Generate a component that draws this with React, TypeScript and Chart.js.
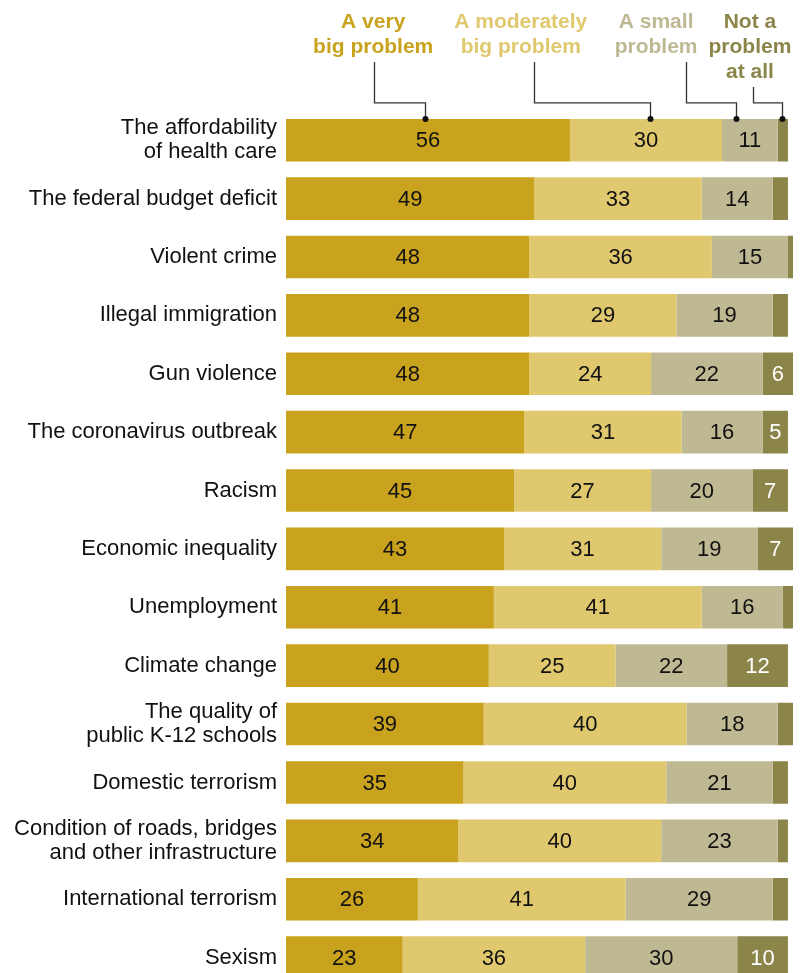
import React, { useEffect, useRef } from "react";
import { Chart, registerables } from "chart.js";

Chart.register(...registerables);

const categories: (string | string[])[] = [
  ["The affordability", "of health care"],
  "The federal budget deficit",
  "Violent crime",
  "Illegal immigration",
  "Gun violence",
  "The coronavirus outbreak",
  "Racism",
  "Economic inequality",
  "Unemployment",
  "Climate change",
  ["The quality of", "public K-12 schools"],
  "Domestic terrorism",
  ["Condition of roads, bridges", "and other infrastructure"],
  "International terrorism",
  "Sexism",
];

const veryBig = [56, 49, 48, 48, 48, 47, 45, 43, 41, 40, 39, 35, 34, 26, 23];
const moderatelyBig = [30, 33, 36, 29, 24, 31, 27, 31, 41, 25, 40, 40, 40, 41, 36];
const smallProblem = [11, 14, 15, 19, 22, 16, 20, 19, 16, 22, 18, 21, 23, 29, 30];
const notAtAll = [2, 3, 1, 3, 6, 5, 7, 7, 2, 12, 3, 3, 2, 3, 10];

const seriesNames = [
  ["A very", "big problem"],
  ["A moderately", "big problem"],
  ["A small", "problem"],
  ["Not a", "problem", "at all"],
];
const colors = ["#C9A31E", "#E0C86E", "#BFB993", "#8B8549"];
const labelColors = ["#111111", "#111111", "#111111", "#FFFFFF"];

const FONT = "'Liberation Sans', Arial, sans-serif";

// header annotation positions in value units (x) for text centre, leader start, dot
const headerTextAt = [17.2, 46.3, 73.0, 91.5];
const headerLeaderAt = [17.4, 48.9, 78.9, 92.1];
const headerDotAt = [27.4, 71.8, 88.8, 97.8];

const valueLabels = {
  id: "valueLabels",
  afterDatasetsDraw(chart: any) {
    const ctx = chart.ctx;
    ctx.save();
    ctx.font = `22px ${FONT}`;
    ctx.textAlign = "center";
    ctx.textBaseline = "middle";
    chart.data.datasets.forEach((ds: any, di: number) => {
      const meta = chart.getDatasetMeta(di);
      meta.data.forEach((el: any, i: number) => {
        const v = ds.data[i];
        if (v < 5) return;
        const cx = (el.x + el.base) / 2;
        ctx.fillStyle = labelColors[di];
        ctx.fillText(String(v), cx, el.y + 1);
      });
    });
    ctx.restore();
  },
};

const header = {
  id: "header",
  afterDraw(chart: any) {
    const ctx = chart.ctx;
    const xs = chart.scales.x;
    const first = chart.getDatasetMeta(0).data[0];
    const barTop = first.y - first.height / 2;
    const hY = barTop - 16;
    ctx.save();
    seriesNames.forEach((lines, i) => {
      ctx.font = `bold 21px ${FONT}`;
      ctx.textAlign = "center";
      ctx.textBaseline = "alphabetic";
      ctx.fillStyle = colors[i];
      const tx = xs.getPixelForValue(headerTextAt[i]);
      lines.forEach((t, li) => {
        ctx.fillText(t, tx, 28 + li * 25);
      });
      const topY = 28 + (lines.length - 1) * 25 + 9;
      const lx = Math.round(xs.getPixelForValue(headerLeaderAt[i])) + 0.5;
      const dx = Math.round(xs.getPixelForValue(headerDotAt[i])) + 0.5;
      ctx.strokeStyle = "#333333";
      ctx.lineWidth = 1.3;
      ctx.beginPath();
      ctx.moveTo(lx, topY);
      ctx.lineTo(lx, hY);
      ctx.lineTo(dx, hY);
      ctx.lineTo(dx, barTop);
      ctx.stroke();
      ctx.fillStyle = "#111111";
      ctx.beginPath();
      ctx.arc(dx, barTop, 3, 0, Math.PI * 2);
      ctx.fill();
    });
    ctx.restore();
  },
};

export default function App() {
  const ref = useRef<HTMLCanvasElement>(null);
  useEffect(() => {
    if (!ref.current) return;
    const data = [veryBig, moderatelyBig, smallProblem, notAtAll];
    const chart = new Chart(ref.current, {
      type: "bar",
      data: {
        labels: categories,
        datasets: data.map((d, i) => ({
          label: seriesNames[i].join(" "),
          data: d,
          backgroundColor: colors[i],
          borderWidth: 0,
          categoryPercentage: 1,
          barPercentage: 0.73,
        })),
      },
      options: {
        indexAxis: "y",
        responsive: false,
        animation: false,
        layout: { padding: { top: 111, right: 16, bottom: 4, left: 0 } },
        plugins: {
          legend: { display: false },
          tooltip: { enabled: false },
        },
        scales: {
          x: {
            stacked: true,
            min: 0,
            max: 100,
            display: false,
          },
          y: {
            stacked: true,
            grid: { display: false, drawTicks: false },
            border: { display: false },
            ticks: {
              color: "#111111",
              padding: 9,
              font: { family: FONT, size: 22, lineHeight: 1.1 },
            },
            afterFit(scale: any) {
              scale.width = 286;
            },
          },
        },
      },
      plugins: [valueLabels, header],
    } as any);
    return () => chart.destroy();
  }, []);
  return (
    <div style={{ position: "absolute", left: 0, top: 0, width: 809, height: 1020, background: "#fff" }}>
      <canvas ref={ref} width={809} height={1020} style={{ display: "block" }} />
    </div>
  );
}
